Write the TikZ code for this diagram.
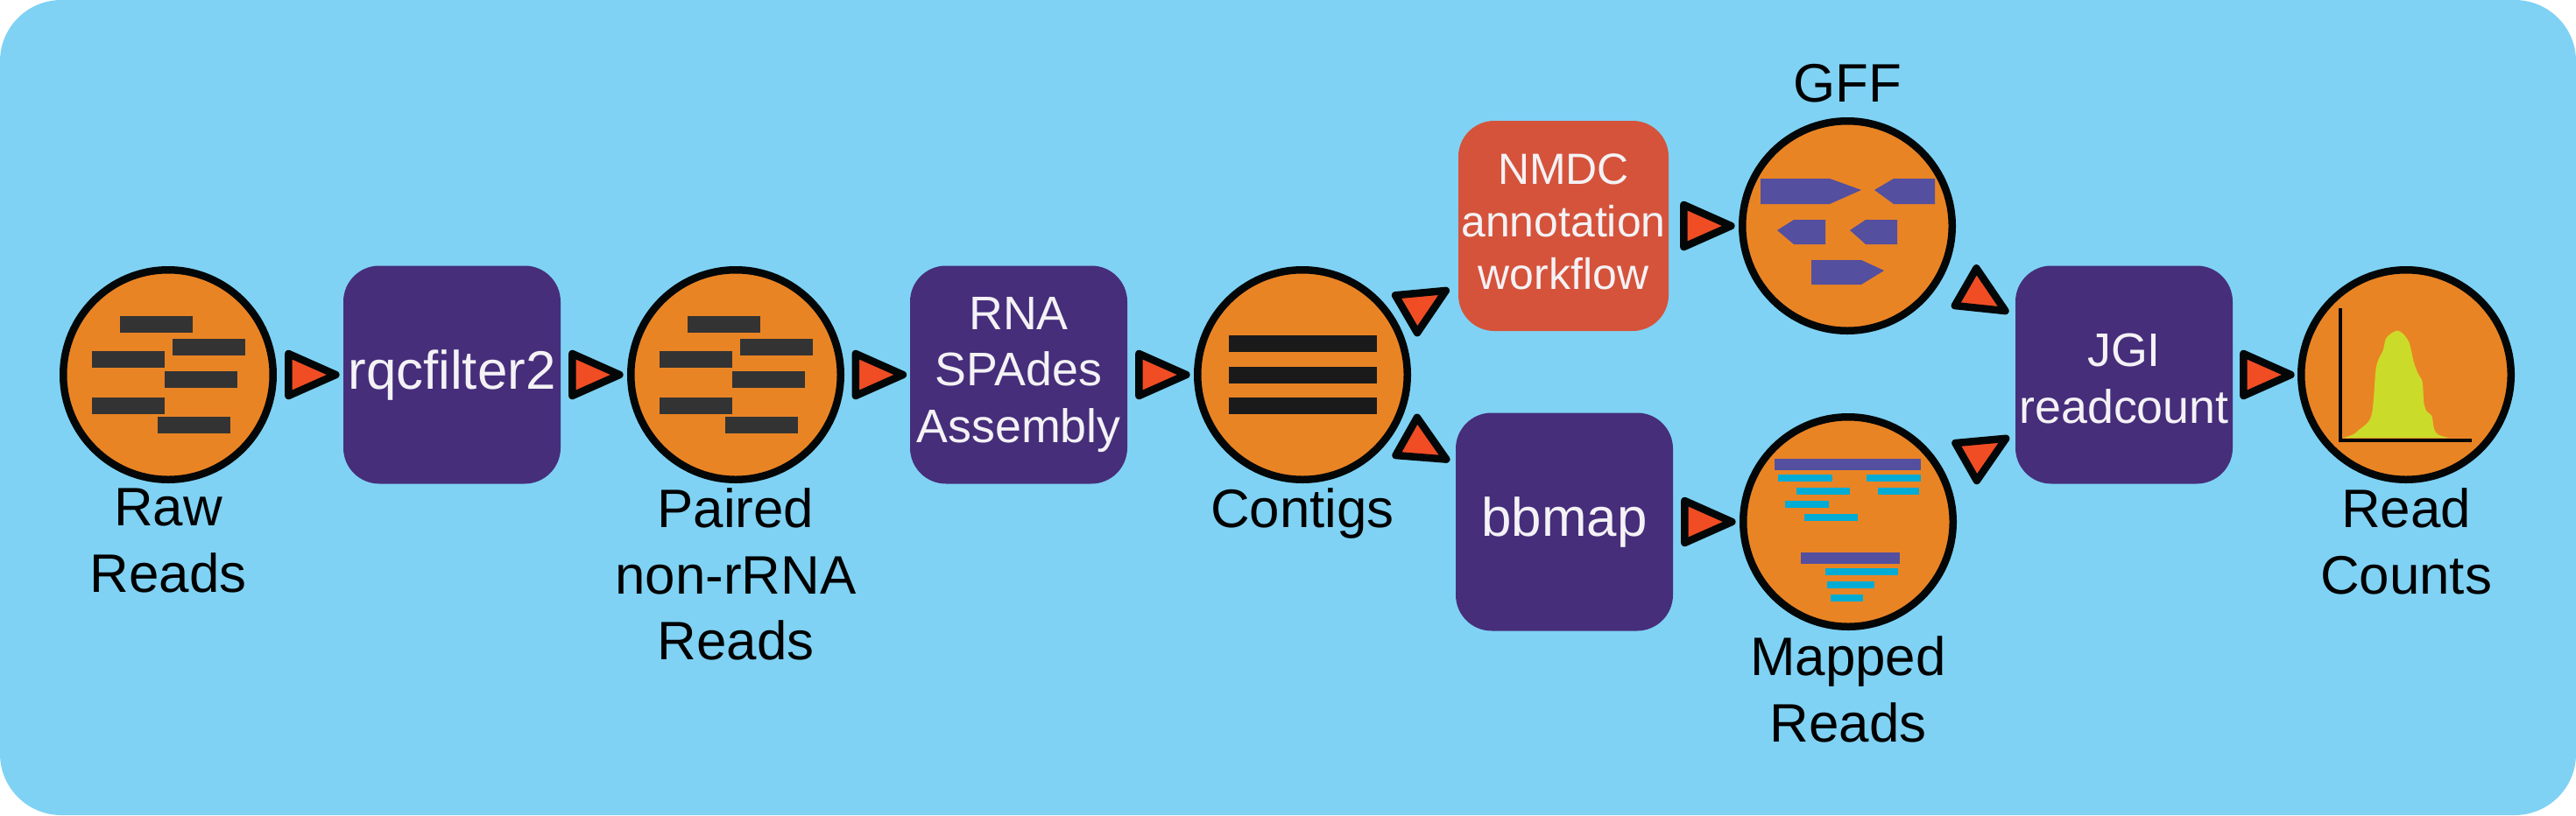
\documentclass[tikz,border=0pt]{standalone}
\usepackage{fontspec}
\setmainfont{Liberation Sans}
\usetikzlibrary{positioning,shapes.geometric}

\definecolor{panelblue}{HTML}{7FD2F3}
\definecolor{dataorange}{HTML}{E98424}
\definecolor{toolpurple}{HTML}{462E7B}
\definecolor{annotred}{HTML}{D5533B}
\definecolor{tipred}{HTML}{F04D24}
\definecolor{inkblack}{HTML}{040708}
\definecolor{readgrey}{HTML}{333333}
\definecolor{contigblack}{HTML}{1A1A1A}
\definecolor{genepurple}{HTML}{544F9F}
\definecolor{hitcyan}{HTML}{00ABD4}
\definecolor{peakgreen}{HTML}{CBDB2A}
\definecolor{boxwhite}{HTML}{F4F2F5}

\begin{document}
\begin{tikzpicture}[
		datacirc/.style = {circle, draw=inkblack, fill=dataorange, line width=.085cm, minimum size=2.395cm, inner sep=0pt},
		toolbox/.style  = {rectangle, rounded corners=.41cm, fill=toolpurple, text=boxwhite, minimum width=2.48cm, minimum height=2.49cm, inner sep=0pt, outer sep=0pt, align=center},
		bigtool/.style  = {toolbox, font=\fontsize{17.6}{21.5}\selectfont},
		midtool/.style  = {toolbox, font=\fontsize{15.3}{18.4}\selectfont},
		annotbox/.style = {toolbox, fill=annotred, minimum width=2.4cm, minimum height=2.4cm, font=\fontsize{14.2}{17}\selectfont},
		datalabel/.style = {align=center, text=black, inner sep=0pt, outer sep=0pt, font=\fontsize{17.6}{21.5}\selectfont},
		tipshape/.style = {isosceles triangle, isosceles triangle stretches, draw=inkblack, fill=tipred, line width=.085cm, line join=round, inner sep=0pt},
		flowtip/.style  = {tipshape, minimum height=.54cm, minimum width=.48cm, xshift=-.09cm},
		slanttip/.style = {tipshape, minimum height=.45cm, minimum width=.58cm},
		readbars/.pic = {
			\foreach \bx/\by in {-.135/.575, .46/.315, -.455/.175, .375/-.055, -.455/-.355, .295/-.575}
			\fill[readgrey] (\bx-.415,\by-.095) rectangle (\bx+.415,\by+.095);
		}]

		% bottom layer, the panel
		\useasboundingbox (0,0) rectangle (29.41,9.31);
		\fill[panelblue, rounded corners=.7cm] (0,0) rectangle (29.41,9.31);

		% the middle row
		\node[datacirc] (raw) at (1.92,5.03) {};
		\node[bigtool, right=.76cm of raw] (rqc) {rqcfilter2};
		\node[datacirc, right=.76cm of rqc] (paired) {};
		\node[midtool, right=.75cm of paired] (rna) {RNA\\SPAdes\\Assembly};
		\node[datacirc, right=.76cm of rna] (contigs) {};

		% the two branches
		\node[annotbox] (nmdc) at (17.85,6.73) {NMDC\\annotation\\workflow\rule[-.1cm]{0pt}{0pt}};
		\node[datacirc, right=.80cm of nmdc] (gff) {};
		\node[bigtool] (bbmap) at (17.86,3.35) {bbmap};
		\node[datacirc, right=.76cm of bbmap] (mapped) {};

		% the end of the row
		\node[midtool] (jgi) at (24.25,5.03) {\rule{0pt}{.47cm}JGI\\readcount};
		\node[datacirc, right=.74cm of jgi] (counts) {};

		% labels under and over the circles
		\node[datalabel, below=.06cm of raw] (rawlabel) {Raw\\Reads};
		\node[datalabel, below=.06cm of paired] (pairedlabel) {Paired\\non-rRNA\\Reads};
		\node[datalabel, below=.06cm of contigs] (contigslabel) {Contigs};
		\node[datalabel, above=.17cm of gff] (gfflabel) {GFF};
		\node[datalabel, below=.07cm of mapped] (mappedlabel) {Mapped\\Reads};
		\node[datalabel, below=.06cm of counts] (countslabel) {Read\\Counts};

		% straight connectors
		\foreach \from/\to in {raw/rqc, rqc/paired, paired/rna, rna/contigs, nmdc/gff, bbmap/mapped, jgi/counts}
		\path (\from.center) -- node[flowtip] (tip\from) {} (\to.center);

		% slanted connectors
		\path (contigs.center) -- node[slanttip, pos=.446, yshift=-.06cm, rotate=-84.7, yslant=-.18, xshift=-.075cm] (tipcontigs) {} (nmdc.center);
		\path (bbmap.center) -- node[slanttip, pos=.555, yshift=.04cm, rotate=85.5, yslant=.18, xshift=-.075cm] (tipback) {} (contigs.center);
		\path (gff.center) -- node[slanttip, pos=.473, yshift=.10cm, rotate=84, yslant=.2, xshift=-.075cm] (tipgff) {} (jgi.center);
		\path (mapped.center) -- node[slanttip, pos=.473, yshift=-.105cm, rotate=-84.8, yslant=-.19, xshift=-.075cm] (tipmapped) {} (jgi.center);

		% reads
		\pic at (raw.center) {readbars};
		\pic at (paired.center) {readbars};

		% contigs
		\begin{scope}[shift={(contigs.center)}]
		\foreach \by in {.355,0,-.355}
		\fill[contigblack] (-.845,\by-.095) rectangle (.845,\by+.095);
		\end{scope}

		% genes of the GFF
		\begin{scope}[shift={(gff.center)}, genepurple]
		\fill (-.99,.54) -- (-.20,.54) -- (.16,.41) -- (-.20,.25) -- (-.99,.25) -- cycle;
		\fill (.31,.41) -- (.53,.54) -- (1.00,.54) -- (1.00,.25) -- (.53,.25) -- cycle;
		\fill (-.80,-.05) -- (-.61,.07) -- (-.25,.07) -- (-.25,-.21) -- (-.61,-.21) -- cycle;
		\fill (.03,-.05) -- (.21,.07) -- (.57,.07) -- (.57,-.21) -- (.21,-.21) -- cycle;
		\fill (-.41,-.39) -- (.16,-.39) -- (.42,-.51) -- (.16,-.67) -- (-.41,-.67) -- cycle;
		\end{scope}

		% mapped reads
		\begin{scope}[shift={(mapped.center)}]
		\fill[genepurple] (-.84,.59) rectangle (.83,.72);
		\fill[genepurple] (-.54,-.48) rectangle (.59,-.35);
		\foreach \xa/\xb/\ya in {-.80/-.18/.46, .21/.83/.46, -.59/.02/.31, .34/.81/.31, -.72/-.225/.16, -.50/.11/.01, -.265/.57/-.61, -.24/.30/-.76, -.205/.17/-.91}
		\fill[hitcyan] (\xa,\ya) rectangle (\xb,\ya+.08);
		\end{scope}

		% the peak of the read counts
		\begin{scope}[shift={(counts.center)}]
		\fill[peakgreen] plot[smooth, tension=.5] coordinates {(-.713,-.72) (-.613,-.687) (-.547,-.637) (-.397,-.47) (-.347,.047) (-.313,.18) (-.263,.28) (-.23,.413) (-.147,.487) (-.09,.503) (-.03,.463) (.037,.363) (.087,.147) (.137,.013) (.187,-.087) (.203,-.32) (.237,-.42) (.293,-.47) (.32,-.62) (.37,-.687) (.487,-.72)} -- cycle;
		\draw[inkblack, line width=.04cm] (-.75,.76) -- (-.75,-.745) -- (.75,-.745);
		\end{scope}

\end{tikzpicture}
\end{document}
